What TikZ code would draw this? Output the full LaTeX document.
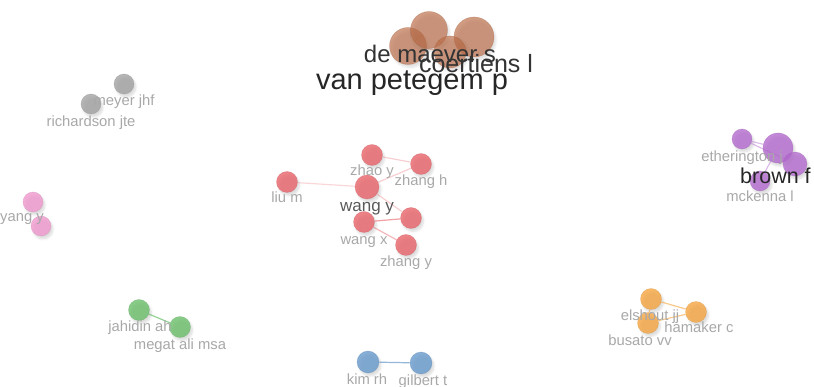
\documentclass[tikz,border=0pt]{standalone}
\usepackage{fontspec}
\setmainfont{Liberation Sans}
\usetikzlibrary{shadows.blur}
\definecolor{cbrown}{RGB}{188,110,72}
\definecolor{cgray}{RGB}{160,160,160}
\definecolor{cred}{RGB}{232,96,102}
\definecolor{cpurple}{RGB}{178,104,206}
\definecolor{cpink}{RGB}{240,150,205}
\definecolor{cgreen}{RGB}{104,190,104}
\definecolor{corange}{RGB}{246,164,60}
\definecolor{cblue}{RGB}{100,152,204}
\definecolor{lbl}{RGB}{168,168,168}
\tikzset{
  dot/.style={circle, inner sep=0pt, fill=#1, fill opacity=0.78, draw=#1!85!black, draw opacity=0.35, line width=0.6pt,
    blur shadow={shadow xshift=2pt, shadow yshift=-3pt, shadow blur steps=6, shadow opacity=18}},
  lab/.style={anchor=base, text=lbl, font=\fontsize{14.8}{14.8}\selectfont, inner sep=0pt},
  edge/.style={draw=#1, draw opacity=0.45, line width=1.2pt},
}
\begin{document}
\begin{tikzpicture}[x=1pt,y=-1pt]
\useasboundingbox (0,0) rectangle (814,387);
% brown cluster
\node[dot=cbrown, fill opacity=0.68, minimum size=37pt] (b1) at (408,46) {};
\node[dot=cbrown, fill opacity=0.68, minimum size=37pt] (b2) at (429,30) {};
\node[dot=cbrown, fill opacity=0.68, minimum size=40pt] (b3) at (474,37) {};
\node[dot=cbrown, fill opacity=0.68, minimum size=32pt] (b4) at (450,52) {};
\draw[edge=cbrown] (b1) -- (b2) (b2) -- (b4) (b4) -- (b3) (b1) -- (b4);
\node[anchor=base, inner sep=0pt, font=\fontsize{24}{24}\selectfont, text=black!80] (lb1) at (430,63) {de maever s};
\node[anchor=base, inner sep=0pt, font=\fontsize{25}{25}\selectfont, text=black!80] (lb3) at (476,73) {coertiens l};
\node[anchor=base, inner sep=0pt, font=\fontsize{29}{29}\selectfont, text=black!85] (lb2) at (412,90) {van petegem p};
% gray cluster
\node[dot=cgray, minimum size=20pt] (g1) at (124,84) {};
\node[dot=cgray, minimum size=20pt] (g2) at (91,104) {};
\node[lab] (lg1) at (124,106) {meyer jhf};
\node[lab] (lg2) at (91,127) {richardson jte};
% red cluster
\node[dot=cred, minimum size=21pt] (liu) at (287,182) {};
\node[dot=cred, minimum size=21pt] (zhao) at (372,155) {};
\node[dot=cred, minimum size=21pt] (zhangh) at (421,164) {};
\node[dot=cred, minimum size=24pt] (wangy) at (367,187) {};
\node[dot=cred, minimum size=21pt] (wangx) at (364,222) {};
\node[dot=cred, minimum size=21pt] (r6) at (411,218) {};
\node[dot=cred, minimum size=21pt] (zhangy) at (406,245) {};
\draw[edge=cred, draw opacity=0.25] (liu) -- (wangy);
\draw[edge=cred, draw opacity=0.3] (zhao) -- (zhangh) (wangy) -- (zhangh) (wangy) -- (r6);
\draw[edge=cred, draw opacity=0.6] (wangx) -- (r6);
\draw[edge=cred, draw opacity=0.45] (wangx) -- (zhangy);
\node[lab] (lliu) at (287,203) {liu m};
\node[lab] (lzhao) at (372,176) {zhao y};
\node[lab] (lzhangh) at (421,186) {zhang h};
\node[lab, text=black!65, font=\fontsize{17}{17}\selectfont] (lwangy) at (367,212) {wang y};
\node[lab] (lwangx) at (364,245) {wang x};
\node[lab] (lzhangy) at (406,267) {zhang y};
% purple cluster
\node[dot=cpurple, minimum size=20pt] (p1) at (742,139) {};
\node[dot=cpurple, minimum size=30pt] (p2) at (778,148) {};
\node[dot=cpurple, minimum size=24pt] (p3) at (795,164) {};
\node[dot=cpurple, minimum size=20pt] (p4) at (760,181) {};
\draw[edge=cpurple] (p1) -- (p2) (p1) -- (p3) (p2) -- (p4) (p2) -- (p3);
\node[lab] (lp1) at (742,162) {etherington j};
\node[anchor=base west, inner sep=0pt, font=\fontsize{21.5}{21.5}\selectfont, text=black!85] (lp2) at (740,184) {brown f};
\node[lab] (lp4) at (760,202) {mckenna l};
% pink cluster
\node[dot=cpink, minimum size=20pt] (k1) at (33,202) {};
\node[dot=cpink, minimum size=20pt] (k2) at (41,226) {};
\node[lab] (lk) at (22,222) {yang y};
% green cluster
\node[dot=cgreen, minimum size=21pt] (gr1) at (139,310) {};
\node[dot=cgreen, minimum size=21pt] (gr2) at (180,327) {};
\draw[edge=cgreen, draw opacity=0.7] (gr1) -- (gr2);
\node[lab] (lgr1) at (140,331) {jahidin ah};
\node[lab] (lgr2) at (180,349) {megat ali msa};
% orange cluster
\node[dot=corange, minimum size=21pt] (o1) at (651,299) {};
\node[dot=corange, minimum size=21pt] (o2) at (696,312) {};
\node[dot=corange, minimum size=21pt] (o3) at (648,323) {};
\draw[edge=corange, draw opacity=0.6] (o1) -- (o2) (o3) -- (o2) (o1) -- (o3);
\node[lab] (lo1) at (650,321) {elshout jj};
\node[lab] (lo2) at (699,333) {hamaker c};
\node[lab] (lo3) at (640,345) {busato vv};
% blue cluster
\node[dot=cblue, minimum size=22pt] (bl1) at (368,362) {};
\node[dot=cblue, minimum size=22pt] (bl2) at (421,363) {};
\draw[edge=cblue, draw opacity=0.7] (bl1) -- (bl2);
\node[lab] (lbl1) at (367,384) {kim rh};
\node[lab] (lbl2) at (423,385) {gilbert t};
\end{tikzpicture}
\end{document}
